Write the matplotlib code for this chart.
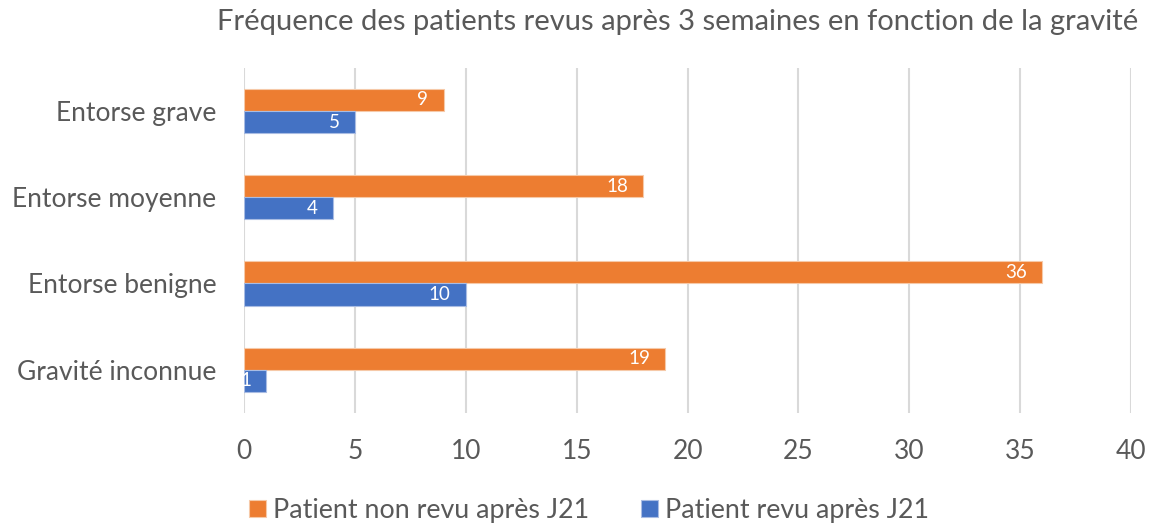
import numpy as np
import matplotlib.pyplot as plt

categories = ["Gravité inconnue", "Entorse benigne", "Entorse moyenne", "Entorse grave"]
non_revu = [19, 36, 18, 9]
revu = [1, 10, 4, 5]
xticks = [0, 5, 10, 15, 20, 25, 30, 35, 40]

orange = "#ED7D31"
blue = "#4472C4"
grey = "#595959"

plt.rcParams["font.family"] = ["Lato", "DejaVu Sans"]

fig = plt.figure(figsize=(11.55, 5.3), dpi=100)
ax = fig.add_axes([0.2113, 0.221, 0.768, 0.651])

y = np.arange(len(categories))
h = 0.256
b1 = ax.barh(y + h / 2, non_revu, height=h, color=orange, edgecolor="#F6C9A8", linewidth=0.8,
             label="Patient non revu après J21", zorder=3)
b2 = ax.barh(y - h / 2, revu, height=h, color=blue, edgecolor="#A9BCE3", linewidth=0.8,
             label="Patient revu après J21", zorder=3)
for bars in (b1, b2):
    for t in ax.bar_label(bars, padding=-11, color="white", fontsize=13.5):
        t.set_ha("right")

ax.set_xlim(0, 40)
ax.set_ylim(-0.5, 3.5)
ax.set_xticks(xticks)
ax.set_yticks(y)
ax.set_yticklabels(categories)
ax.tick_params(axis="both", length=0, colors=grey, labelsize=19)
ax.tick_params(axis="x", pad=19)
ax.tick_params(axis="y", pad=20)
ax.grid(axis="x", color="#D9D9D9", linewidth=1.5, zorder=0)
for s in ax.spines.values():
    s.set_visible(False)

fig.text(0.587, 0.958, "Fréquence des patients revus après 3 semaines en fonction de la gravité",
         ha="center", va="center", fontsize=21, color=grey)

leg = fig.legend(handles=[b1, b2], loc="center", bbox_to_anchor=(0.51, 0.037), ncol=2,
                 frameon=False, fontsize=19.3, handlelength=0.63, handleheight=0.63,
                 columnspacing=1.94, handletextpad=0.26)
for t in leg.get_texts():
    t.set_color(grey)

fig.savefig("out.png", dpi=100)
